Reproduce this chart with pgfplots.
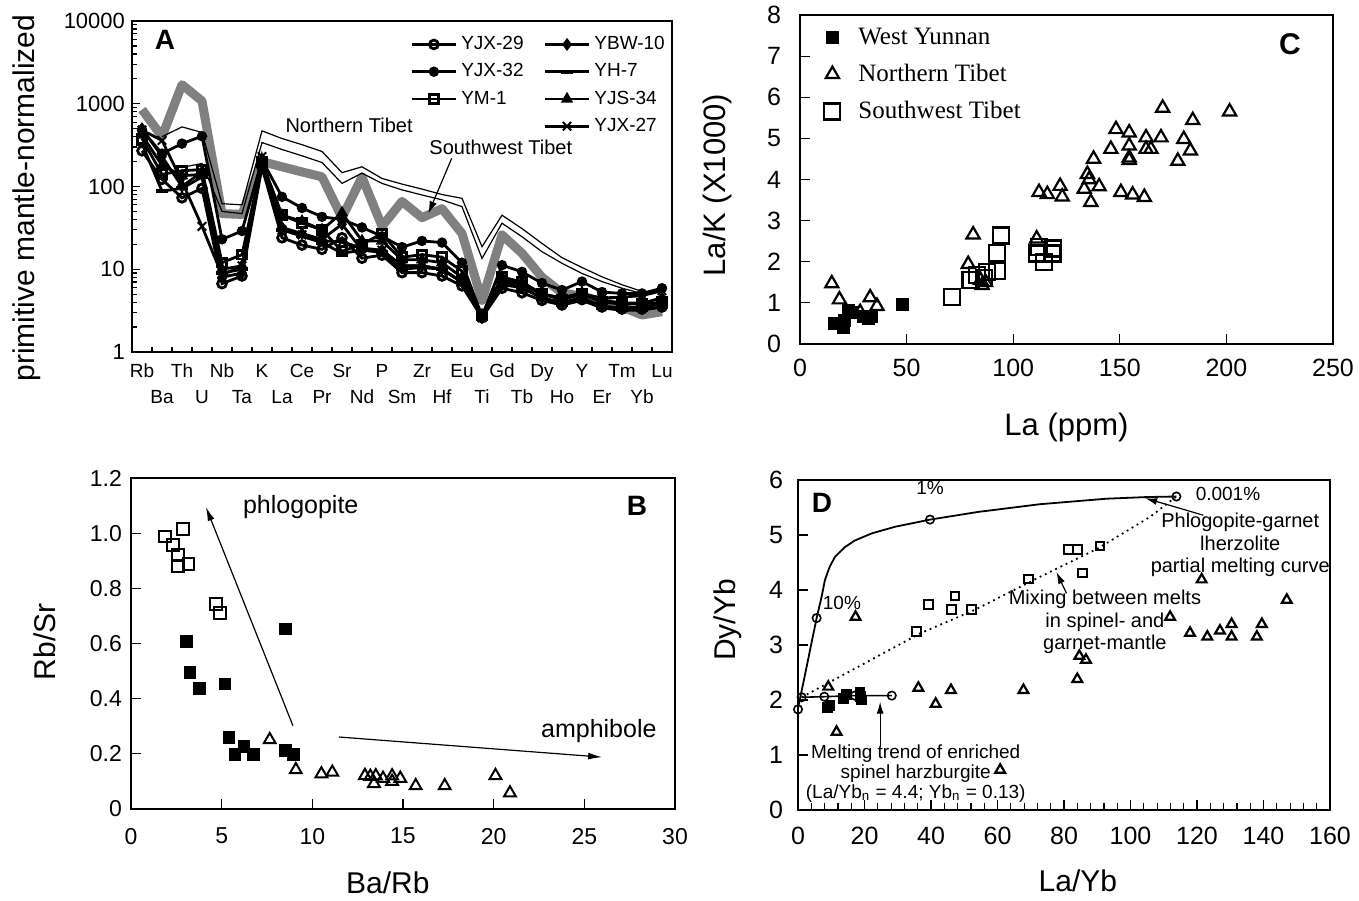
\documentclass[border=0pt]{standalone}
\usepackage{fontspec}
\setmainfont{Liberation Sans}
\newfontfamily\timesfont{Liberation Serif}
\usepackage{pgfplots}
\usepackage{pgfplotstable}
\pgfplotsset{compat=1.18}
\usetikzlibrary{arrows.meta}

\newcommand\fs[1]{\fontsize{#1}{#1}\selectfont}

\pgfplotsset{
  panel/.style={scale only axis, anchor=south west, clip=false,
    axis line style={line width=0.8pt}, tick style={black, line width=0.6pt},
    xtick pos=bottom, ytick pos=left, tick align=inside},
  sample/.style={black, line width=1.4pt, mark size=2.2pt,
    mark options={solid, line width=0.8pt}},
}

% primitive mantle-normalized values (index 0..26 = Rb ... Lu)
\pgfplotstableread{
i  yjx29 yjx32 ym1 ybw10 yh7 yjs34 yjx27 sw   ntu  ntl
0  270   480   380 500   330 420   480   850  nan  nan
1  122   250   140 230   88  180   360   400  400  nan
2  73    330   155 100   95  135   115   1700 525  170
3  95    405   160 150   130 140   33    1080 450  190
4  6.7   23    12  8     9   10    8.5   47   62   50
5  8.3   29    15  9     10  11    11    46   60   47
6  170   210   200 190   220 185   230   200  470  340
7  24    75    45  32    30  45    30    173  380  280
8  19.6  55    36  27    25  38    26    150  320  235
9  17.4  43    30  23    21  30    22    131  265  195
10 24    40    16.5 35   15.6 48   21.5  42   147  109
11 13.6  32    20  17    17  22    18    130  173  145
12 14.8  25    27  17    16  22    17    33   125  109
13 9.1   18.5  14  11    10  13    11    66   107  91
14 9.1   22    15  11    10.5 13   11    42   93   79
15 8.3   21    14  10    10  12    10    54   80   69
16 6.3   12    9.5 7     7   8     7     27   72   57
17 2.6   2.7   2.8 2.6   2.7 2.8   2.6   4.2  18.7 13.5
18 5.9   11.2  8   6.5   7   8     7.5   26   45   36
19 5.2   9.3   7   6     6   7     6.5   15.6 31   24.7
20 4.2   6.8   5   4.5   4.5 5     5     8    20.5 16.3
21 3.7   5.6   4.3 4     3.7 4.5   4.5   5.2  13.8 11.8
22 4.3   7.1   5   4.5   4.2 5.2   5     4.7  10.5 8.9
23 3.5   5.3   4   3.6   3.4 4.2   4.5   4.1  8.1  7.1
24 3.3   5.1   3.8 3.4   3.2 3.9   4.6   3.5  6.5  5.9
25 3.3   5.1   3.8 3.5   3.2 3.9   4.8   2.8  5.4  5.1
26 3.5   5.9   4   3.8   3.5 4.5   5.5   3.07 nan  nan
}\spider

\begin{document}
\begin{tikzpicture}
\path[use as bounding box] (0,0) rectangle (679.5pt,450pt);

% ---------------- A ----------------
\begin{axis}[panel, at={(66pt,274pt)}, width=270pt, height=165.5pt,
  ymode=log, ymin=1, ymax=10000, xmin=-0.5, xmax=26.5,
  ytick={1,10,100,1000,10000}, yticklabels={1,10,100,1000,10000},
  minor ytick={2,3,...,9,20,30,...,90,200,300,...,900,2000,3000,...,9000},
  yticklabel style={font=\fs{11}},
  xtick={0,...,26},
  xticklabels={\strut Rb,{\strut\\\strut Ba},\strut Th,{\strut\\\strut U},\strut Nb,{\strut\\\strut Ta},
    \strut K,{\strut\\\strut La},\strut Ce,{\strut\\\strut Pr},\strut Sr,{\strut\\\strut Nd},\strut P,
    {\strut\\\strut Sm},\strut Zr,{\strut\\\strut Hf},\strut Eu,{\strut\\\strut Ti},\strut Gd,
    {\strut\\\strut Tb},\strut Dy,{\strut\\\strut Ho},\strut Y,{\strut\\\strut Er},\strut Tm,
    {\strut\\\strut Yb},\strut Lu},
  xticklabel style={font=\fontsize{9.5}{13}\selectfont, align=center, anchor=north},
  major x tick style={draw=none},
  minor xtick={0.5,1.5,...,25.5},
  major tick length=4pt, minor tick length=2.5pt,
  every axis y label/.style={at={(axis description cs:-0.194,0.465)}, rotate=90, anchor=center, font=\fs{15}},
  ylabel={primitive mantle-normalized},
  legend columns=2, legend cell align=left,
  legend style={at={(rel axis cs:0.515,0.967)}, anchor=north west, draw=none, fill=none,
    font=\fs{9.5}, inner sep=0pt, row sep=1.5pt,
    /tikz/every even column/.append style={column sep=8pt}},
  legend image code/.code={\draw[mark repeat=2,mark phase=2,#1]
    plot coordinates {(0pt,0pt) (11pt,0pt) (22pt,0pt)};},
]
\addplot[forget plot, gray, line width=4.5pt, line join=round] table[x=i,y=sw]{\spider};
\addplot[forget plot, black, line width=0.6pt] table[x=i,y=ntu]{\spider};
\addplot[forget plot, black, line width=0.6pt] table[x=i,y=ntl]{\spider};
\addplot[forget plot, sample, mark=o, mark options={fill=white}] table[x=i,y=yjx29]{\spider};
\addplot[forget plot, sample, mark=square, mark options={fill=white}] table[x=i,y=ym1]{\spider};
\addplot[forget plot, sample, mark=triangle, mark options={fill=white}] table[x=i,y=yjs34]{\spider};
\addplot[forget plot, sample, mark=-, mark size=3pt, mark options={line width=2pt}] table[x=i,y=yh7]{\spider};
\addplot[forget plot, sample, mark=diamond*, mark size=2.6pt] table[x=i,y=ybw10]{\spider};
\addplot[forget plot, sample, mark=x, mark size=3pt, mark options={line width=1pt}] table[x=i,y=yjx27]{\spider};
\addplot[forget plot, sample, mark=*] table[x=i,y=yjx32]{\spider};

\addlegendimage{sample, mark=o, mark options={fill=white}}\addlegendentry{YJX-29}
\addlegendimage{sample, mark=diamond*, mark size=2.6pt}\addlegendentry{YBW-10}
\addlegendimage{sample, mark=*}\addlegendentry{YJX-32}
\addlegendimage{sample, mark=-, mark size=3pt, mark options={line width=2pt}}\addlegendentry{YH-7}
\addlegendimage{sample, mark=square, mark options={fill=white}}\addlegendentry{YM-1}
\addlegendimage{sample, mark=triangle, mark options={fill=white}}\addlegendentry{YJS-34}
\addlegendimage{empty legend}\addlegendentry{}
\addlegendimage{sample, mark=x, mark size=3pt, mark options={line width=1pt}}\addlegendentry{YJX-27}

\node[font=\bfseries\fs{14}] at (rel axis cs:0.061,0.943) {A};
\node[font=\fs{10}] at (rel axis cs:0.402,0.686) {Northern Tibet};
\node[font=\fs{10}] at (rel axis cs:0.683,0.619) {Southwest Tibet};
\draw[-{Latex[length=6pt,width=4pt]}, line width=0.6pt] (rel axis cs:0.592,0.585) -- (rel axis cs:0.549,0.419);
\end{axis}

% ---------------- B ----------------
\begin{axis}[panel, at={(65.5pt,45.5pt)}, width=272pt, height=165.5pt,
  xmin=0, xmax=30, ymin=0, ymax=1.2,
  xtick={0,5,...,30}, xticklabels={0,5,10,15,20,25,30},
  ytick={0,0.2,0.4,0.6,0.8,1.0,1.2}, yticklabels={0,0.2,0.4,0.6,0.8,1.0,1.2},
  tick label style={font=\fs{11.5}},
  xticklabel style={yshift=-6pt}, yticklabel style={xshift=-1pt},
  major tick length=5pt,
  every axis y label/.style={at={(axis description cs:-0.158,0.505)}, rotate=90, anchor=center, font=\fs{15}},
  every axis x label/.style={at={(axis description cs:0.472,-0.222)}, anchor=center, font=\fs{15}},
  ylabel={Rb/Sr}, xlabel={Ba/Rb},
]
\addplot[only marks, mark=square, mark size=2.9pt, mark options={fill=white, line width=1pt}] coordinates {
 (1.87,0.988) (2.88,1.015) (2.33,0.957) (2.6,0.921) (2.6,0.881) (3.16,0.889) (4.68,0.744) (4.9,0.71)};
\addplot[only marks, mark=square*, mark size=2.9pt] coordinates {
 (3.07,0.607) (3.25,0.495) (3.76,0.438) (5.18,0.454) (8.52,0.653) (5.4,0.259) (5.73,0.197)
 (6.22,0.227) (6.74,0.197) (8.52,0.212) (8.94,0.197)};
\addplot[only marks, mark=triangle, mark size=3.4pt, mark options={fill=white, line width=1pt}] coordinates {
 (7.65,0.251) (9.09,0.142) (10.5,0.127) (11.1,0.133) (12.9,0.121) (13.2,0.118) (13.5,0.12)
 (13.4,0.092) (13.9,0.111) (14.4,0.12) (14.4,0.1) (14.85,0.111) (15.7,0.084) (17.3,0.084)
 (20.1,0.121) (20.9,0.058)};
\draw[-{Latex[length=7pt,width=3.5pt]}, line width=0.6pt] (axis cs:8.93,0.302) -- (axis cs:4.13,1.095);
\draw[-{Latex[length=7pt,width=3.5pt]}, line width=0.6pt] (axis cs:11.47,0.261) -- (axis cs:25.98,0.188);
\node[font=\fs{12.5}] at (axis cs:9.36,1.095) {phlogopite};
\node[font=\fs{12.5}] at (axis cs:25.8,0.284) {amphibole};
\node[font=\bfseries\fs{14}] at (axis cs:27.9,1.10) {B};
\end{axis}

% ---------------- C ----------------
\begin{axis}[panel, at={(400pt,278pt)}, width=266.5pt, height=164.5pt,
  xmin=0, xmax=250, ymin=0, ymax=8,
  xtick={0,50,...,250}, xticklabels={0,50,100,150,200,250},
  ytick={0,1,...,8}, yticklabels={0,1,2,3,4,5,6,7,8},
  tick label style={font=\fs{12.5}},
  xticklabel style={yshift=-4pt}, yticklabel style={xshift=-6pt},
  major tick length=5pt,
  every axis y label/.style={at={(axis description cs:-0.154,0.483)}, rotate=90, anchor=center, font=\fs{15.5}},
  every axis x label/.style={at={(axis description cs:0.5,-0.255)}, anchor=center, font=\fs{15.5}},
  ylabel={La/K (X1000)}, xlabel={La (ppm)},
  legend cell align=left,
  legend style={at={(rel axis cs:0.045,0.975)}, anchor=north west, draw=none, fill=none,
    font=\timesfont\fs{12.5}, inner sep=0pt, row sep=4.5pt,
    /tikz/every odd column/.append style={column sep=7pt}},
]
\addplot[forget plot, only marks, mark=square*, mark size=3pt] coordinates {
 (16,0.5) (20.4,0.4) (21,0.58) (22.7,0.82) (24,0.76) (29.8,0.66) (32,0.63) (33.7,0.68) (47.8,0.97)};
\addplot[forget plot, only marks, mark=triangle, mark size=3.8pt, mark options={fill=white, line width=1.1pt}] coordinates {
 (14.9,1.47) (18.5,1.08) (32.9,1.13) (36.1,0.92) (28.2,0.77) (81.2,2.66) (78.9,1.94) (84.7,1.55)
 (85.4,1.43) (87,1.5) (111,2.56) (112.1,3.69) (116,3.64) (122,3.84) (123,3.58) (133.3,3.77)
 (134.8,4.13) (135.6,4.0) (136.4,3.45) (137.7,4.5) (140.3,3.83) (145.8,4.74) (148.2,5.22)
 (150.5,3.69) (154.4,5.14) (154.4,4.82) (154.4,4.47) (154.4,4.53) (156,3.63) (161.5,3.57)
 (162.3,5.02) (162.3,4.74) (164.6,4.74) (170.1,5.74) (169.3,5.02) (177.2,4.45) (180,4.98)
 (183.1,4.7) (184.2,5.44) (201.5,5.65)};
\addplot[forget plot, only marks, mark=square, mark size=4pt, mark options={fill=white, line width=1.1pt}] coordinates {
 (71.3,1.15) (80,1.55) (83.1,1.67) (86.2,1.6) (87.8,1.75) (92.5,1.77) (92.5,2.21) (94.1,2.64)
 (111.3,2.2) (112.1,2.36) (114.5,1.99) (118.4,2.2) (118.8,2.32)};
\addlegendimage{only marks, mark=square*, mark size=3pt}\addlegendentry{West Yunnan}
\addlegendimage{only marks, mark=triangle, mark size=3.8pt, mark options={fill=white, line width=1.1pt}}\addlegendentry{Northern Tibet}
\addlegendimage{only marks, mark=square, mark size=4pt, mark options={fill=white, line width=1.1pt}}\addlegendentry{Southwest Tibet}
\node[font=\bfseries\fs{15}] at (axis cs:229.8,7.3) {C};
\end{axis}

% ---------------- D ----------------
\begin{axis}[panel, at={(399pt,45pt)}, width=266pt, height=165pt,
  xmin=0, xmax=160, ymin=0, ymax=6,
  xtick={0,20,...,160}, xticklabels={0,20,40,60,80,100,120,140,160},
  minor xtick={4,8,...,156},
  ytick={0,1,...,6}, yticklabels={0,1,2,3,4,5,6},
  tick label style={font=\fs{12.5}},
  xticklabel style={yshift=-5pt}, yticklabel style={xshift=-4pt},
  major tick length=5pt, minor tick length=3.5pt,
  every axis y label/.style={at={(axis description cs:-0.133,0.576)}, rotate=90, anchor=center, font=\fs{15}},
  every axis x label/.style={at={(axis description cs:0.526,-0.215)}, anchor=center, font=\fs{15}},
  ylabel={Dy/Yb}, xlabel={La/Yb},
]
\addplot[black, line width=0.9pt] coordinates {
 (0,1.85) (2,2.43) (4,3.02) (5.6,3.49) (7,3.85) (8.1,4.18) (9.5,4.42) (11.1,4.6) (14.1,4.78)
 (17.1,4.9) (22.2,5.03) (29.2,5.15) (39.7,5.28) (54.2,5.42) (72.8,5.56) (92.8,5.66)
 (104.9,5.69) (113.8,5.70)};
\addplot[black, line width=0.9pt, dotted] coordinates {
 (1.1,2.05) (36.7,3.21) (53.2,3.64) (72.8,4.24) (90,4.75) (105.9,5.33) (113.8,5.7)};
\addplot[black, line width=0.8pt, mark=o, mark size=2.1pt, mark options={fill=white}] coordinates {
 (1.1,2.05) (7.9,2.06) (17.1,2.08) (28.2,2.08)};
\addplot[only marks, mark=o, mark size=2.1pt, mark options={fill=white, line width=0.8pt}] coordinates {
 (0,1.83) (5.6,3.49) (39.7,5.28) (113.8,5.70)};
\addplot[only marks, mark=square, mark size=2.2pt, mark options={fill=white, line width=1pt}] coordinates {
 (35.7,3.24) (39.2,3.73) (46.2,3.65) (47.2,3.89) (52.2,3.64) (69.3,4.2) (81.3,4.74) (84,4.74)
 (90.8,4.8) (85.6,4.31)};
\addplot[only marks, mark=square*, mark size=2.4pt] coordinates {
 (8.8,1.87) (9.6,1.9) (13.6,2.03) (14.6,2.1) (18.6,2.15) (19.1,2.0) (18.8,2.07)};
\addplot[only marks, mark=triangle, mark size=2.8pt, mark options={fill=white, line width=1.1pt}] coordinates {
 (9.1,2.24) (17.3,3.51) (11.6,1.42) (36.2,2.22) (41.4,1.93) (46,2.18) (67.8,2.18) (60.8,0.73)
 (84,2.38) (84.6,2.8) (86.6,2.73) (111.9,3.51) (121.4,4.19) (117.9,3.22) (123.1,3.15)
 (126.9,3.26) (130.4,3.38) (130.4,3.15) (138,3.15) (139.5,3.38) (147,3.82)};
\node[font=\bfseries\fs{14}] at (axis cs:7.2,5.58) {D};
\node[font=\fs{9.5}] at (axis cs:39.7,5.85) {1\%};
\node[font=\fs{9.5}] at (axis cs:13.2,3.76) {10\%};
\node[font=\fs{9.5}, anchor=west] at (axis cs:117.5,5.75) {0.001\%};
\node[font=\fontsize{10}{11.3}\selectfont, align=center] at (axis cs:133,4.82) {Phlogopite-garnet\\lherzolite\\partial melting curve};
\draw[-{Latex[length=6pt,width=3.5pt]}, line width=0.6pt] (axis cs:121.9,5.36) -- (axis cs:104.4,5.67);
\node[font=\fontsize{10}{11.3}\selectfont, align=center] at (axis cs:92.3,3.42) {Mixing between melts\\in spinel- and\\garnet-mantle};
\draw[-{Latex[length=6pt,width=3.5pt]}, line width=0.6pt] (axis cs:80.75,3.94) -- (axis cs:77.7,4.33);
\node[font=\fontsize{9.5}{10}\selectfont, align=center] at (axis cs:35.4,0.67) {Melting trend of enriched\\spinel harzburgite\\(La/Yb\textsubscript{n} = 4.4; Yb\textsubscript{n} = 0.13)};
\draw[-{Latex[length=6pt,width=3.5pt]}, line width=0.6pt] (axis cs:24.7,1.15) -- (axis cs:24.7,1.97);
\end{axis}
\end{tikzpicture}
\end{document}
